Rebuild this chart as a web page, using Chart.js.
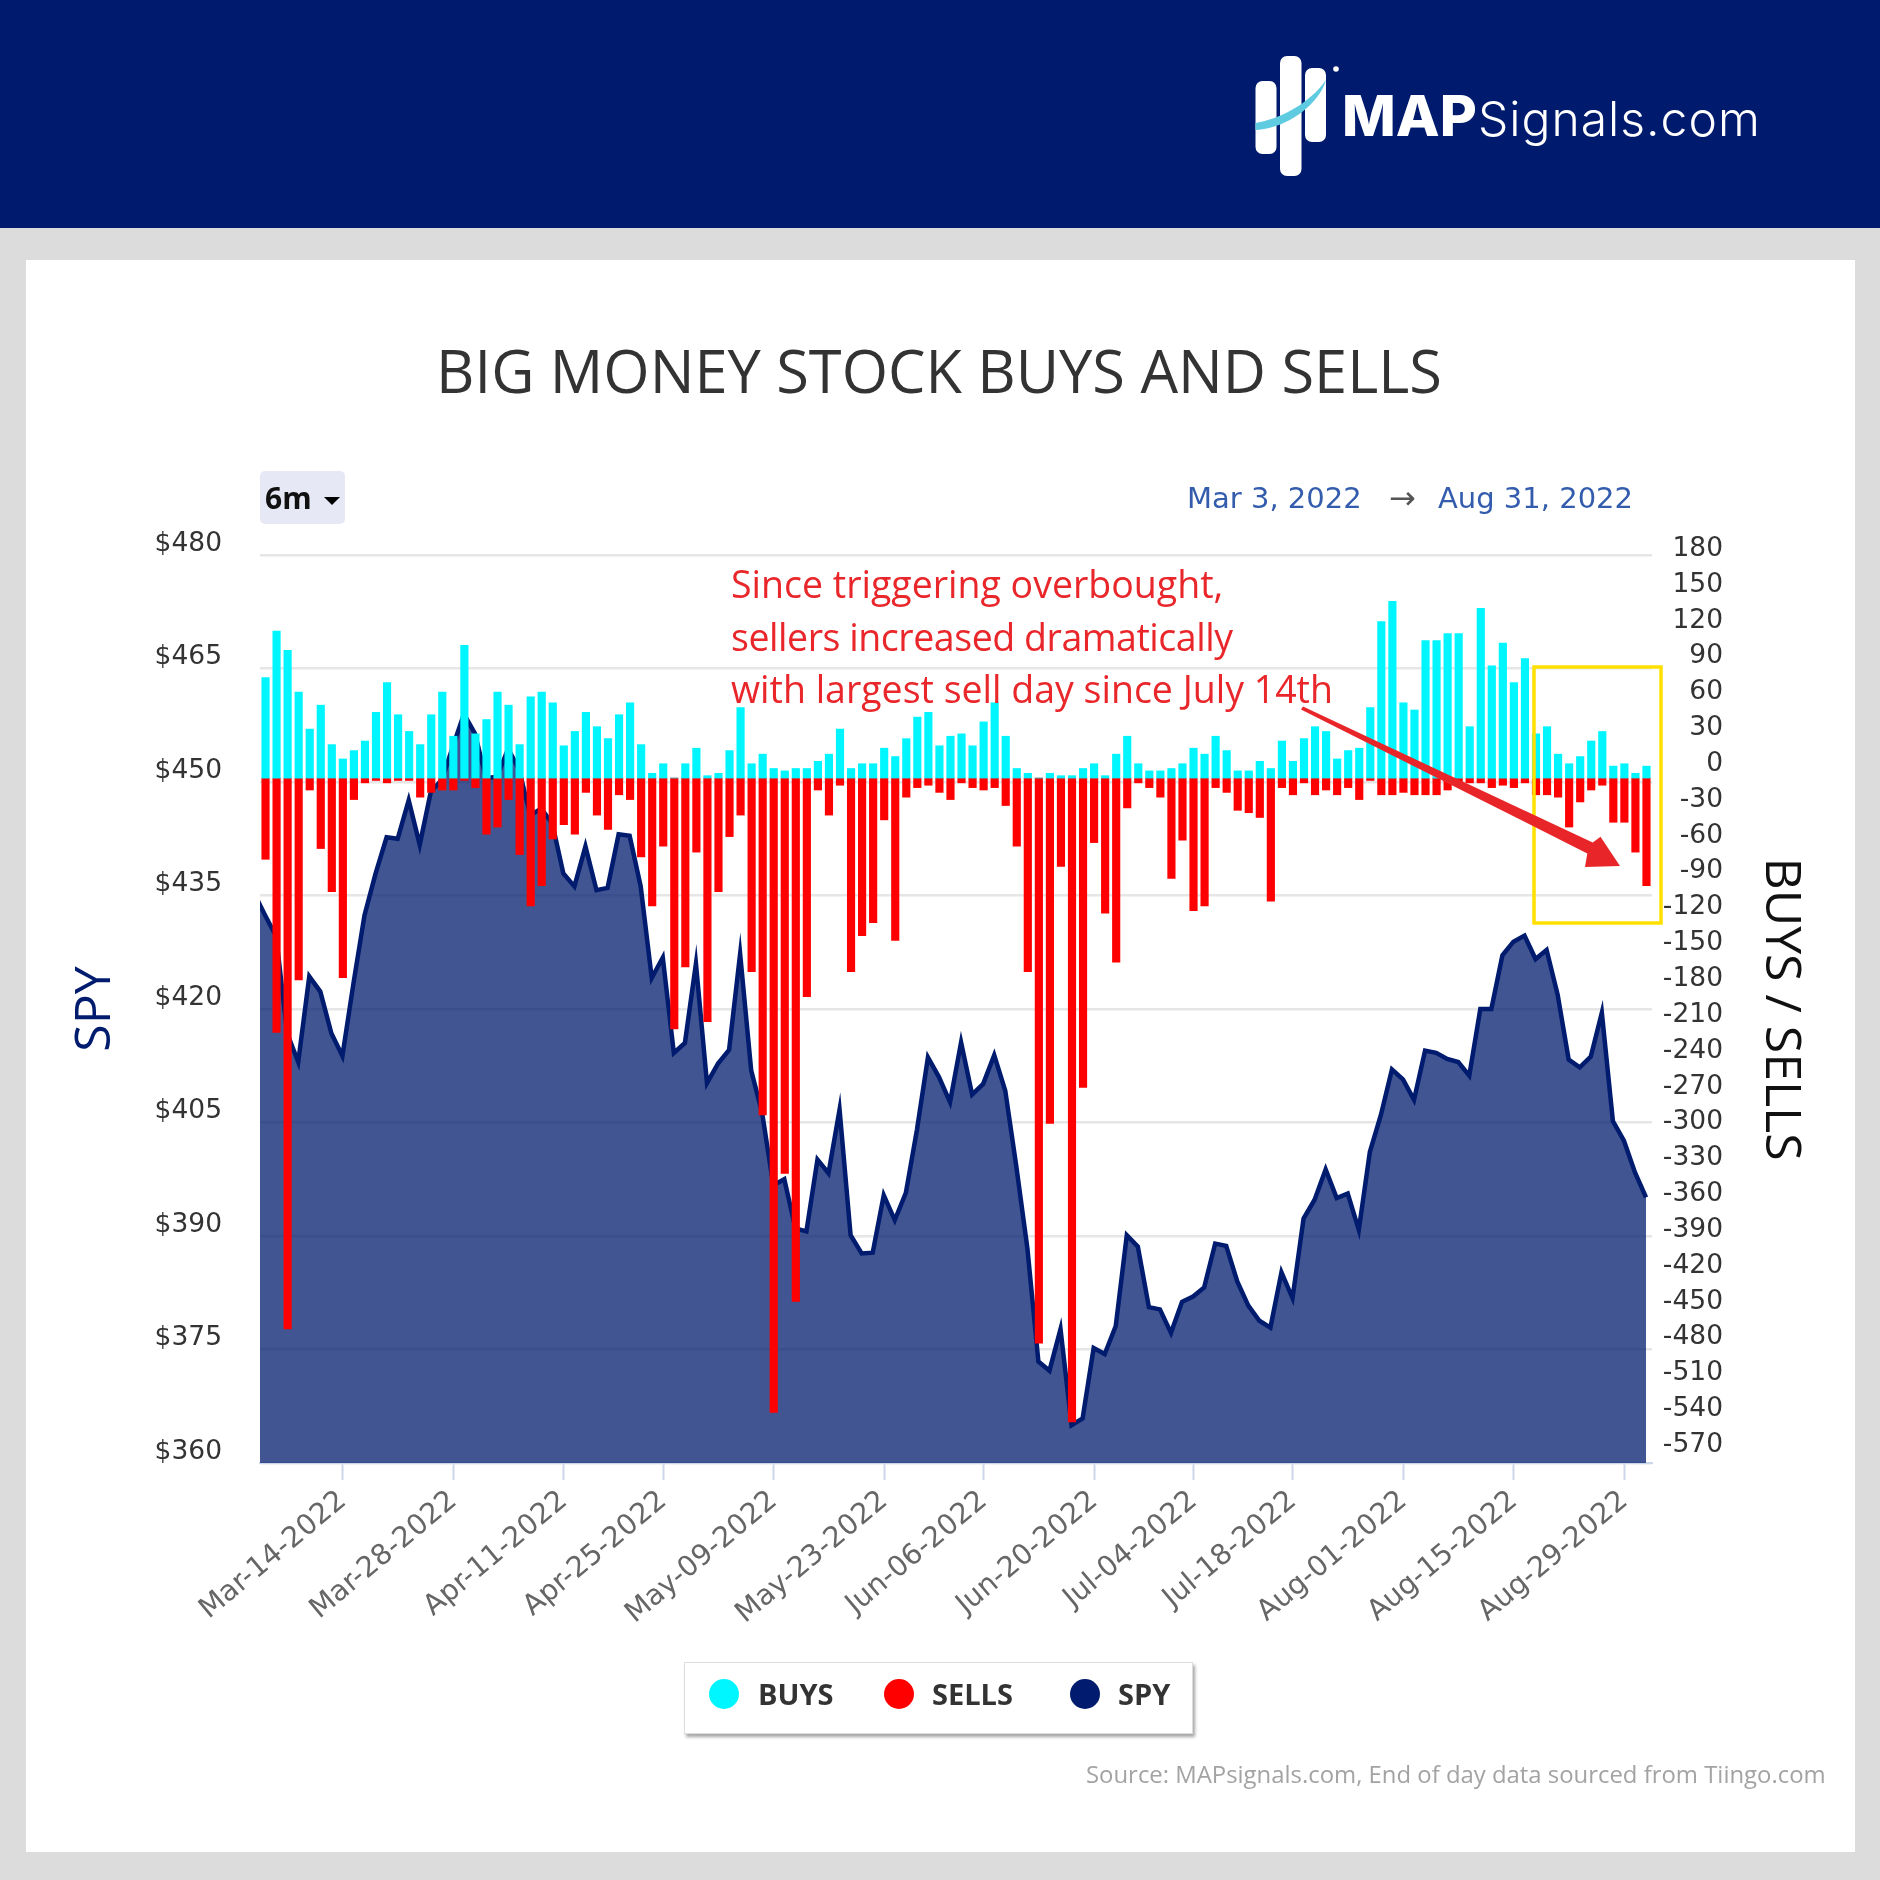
<!DOCTYPE html>
<html>
<head>
<meta charset="utf-8">
<script src="https://cdn.jsdelivr.net/npm/chart.js@4/dist/chart.umd.min.js"></script>
<style>
  html, body { margin: 0; padding: 0; }
  body { width: 1880px; height: 1880px; position: relative; overflow: hidden; background: #dcdcdc; font-family: "Open Sans", sans-serif; }
  .abs { position: absolute; white-space: nowrap; }
  #banner { left: 0; top: 0; width: 1880px; height: 228px; background: #001a6e; }
  #card { left: 26px; top: 260px; width: 1829px; height: 1592px; background: #fff; }
  #chart { position: absolute; left: 0; top: 0; }
  #title { left: 0; width: 1878px; top: 334px; text-align: center; font-size: 59.5px; line-height: 72px; color: #333; }
  #range { left: 260px; top: 471px; width: 85px; height: 53px; background: #e6e9f5; border-radius: 5px; }
  #rangeText { left: 265px; top: 478px; font-size: 30px; line-height: 40px; font-weight: 700; color: #111; }
  #rangeCaret { left: 324px; top: 497px; width: 0; height: 0; border-left: 8px solid transparent; border-right: 8px solid transparent; border-top: 8px solid #000; }
  .dates { top: 478px; font-family: "DejaVu Sans", sans-serif; font-size: 29px; line-height: 40px; color: #335cad; }
  .note { left: 731px; font-size: 37.5px; line-height: 52px; color: #e9262a; }
  #legend { left: 684px; top: 1662px; width: 509px; height: 72px; background: #fff; border: 1px solid #ddd; box-shadow: 2px 3px 3px rgba(0,0,0,.35); box-sizing: border-box; }
  #legend .dot { position: absolute; width: 30px; height: 30px; border-radius: 50%; top: 16px; }
  #legend .lbl { position: absolute; top: 11px; font-size: 29px; line-height: 40px; font-weight: 700; color: #333; }
  #source { left: 1086px; top: 1757px; font-size: 23.9px; line-height: 34px; color: #a3a3a3; }
  #brandA { left: 1342px; top: 80px; font-family: Inter, sans-serif; font-weight: 800; font-size: 57px; line-height: 72px; color: #fff; }
  #brandB { left: 1478px; top: 87px; font-family: Inter, sans-serif; font-weight: 300; font-size: 48px; letter-spacing: 1px; line-height: 64px; color: #fff; }
  svg.abs { left: 0; top: 0; }
</style>
</head>
<body>
<div class="abs" id="banner"></div>
<div class="abs" id="card"></div>
<canvas id="chart" width="1880" height="1880"></canvas>

<svg class="abs" width="1880" height="1880" viewBox="0 0 1880 1880">
  <!-- logo -->
  <rect x="1255.5" y="81" width="21" height="73" rx="7" fill="#fff"/>
  <rect x="1280" y="56" width="21.5" height="120" rx="7" fill="#fff"/>
  <rect x="1305" y="68" width="21" height="74" rx="7" fill="#fff"/>
  <circle cx="1336" cy="69" r="2.8" fill="#fff"/>
  <path d="M1255.5 123 C1285 118 1312 100 1326 80 C1320 102 1290 128 1255.5 130 Z" fill="#5fcbe0"/>
  <!-- highlight box and arrow -->
  <rect x="1534" y="667" width="127" height="256" fill="none" stroke="#ffe000" stroke-width="3.5"/>
  <polygon points="1303,706.5 1592.7,842.6 1600.5,836.7 1620,866 1585,867 1587.3,853.4 1301,709.5" fill="#e8262a"/>
</svg>

<div class="abs" id="title">BIG MONEY STOCK BUYS AND SELLS</div>
<div class="abs" id="range"></div>
<div class="abs" id="rangeText">6m</div>
<div class="abs" id="rangeCaret"></div>
<div class="abs dates" style="left:1187px">Mar 3, 2022</div>
<div class="abs dates" style="left:1389px;font-size:32px;color:#555">&#8594;</div>
<div class="abs dates" style="left:1438px">Aug 31, 2022</div>
<div class="abs note" style="top:558px">Since triggering overbought,</div>
<div class="abs note" style="top:611px;letter-spacing:-.45px">sellers increased dramatically</div>
<div class="abs note" style="top:663px">with largest sell day since July 14th</div>
<div class="abs" id="legend"></div>
<div class="abs" id="source">Source: MAPsignals.com, End of day data sourced from Tiingo.com</div>
<div class="abs" id="brandA">MAP</div>
<div class="abs" id="brandB">Signals.com</div>

<script>
// trading days, Mar 3 to Aug 31 2022 (two axis labels fall on market holidays)
const categories = [
  'Mar-03-2022','Mar-04-2022','Mar-07-2022','Mar-08-2022','Mar-09-2022','Mar-10-2022','Mar-11-2022',
  'Mar-14-2022','Mar-15-2022','Mar-16-2022','Mar-17-2022','Mar-18-2022','Mar-21-2022','Mar-22-2022',
  'Mar-23-2022','Mar-24-2022','Mar-25-2022','Mar-28-2022','Mar-29-2022','Mar-30-2022','Mar-31-2022',
  'Apr-01-2022','Apr-04-2022','Apr-05-2022','Apr-06-2022','Apr-07-2022','Apr-08-2022','Apr-11-2022',
  'Apr-12-2022','Apr-13-2022','Apr-14-2022','Apr-18-2022','Apr-19-2022','Apr-20-2022','Apr-21-2022',
  'Apr-22-2022','Apr-25-2022','Apr-26-2022','Apr-27-2022','Apr-28-2022','Apr-29-2022','May-02-2022',
  'May-03-2022','May-04-2022','May-05-2022','May-06-2022','May-09-2022','May-10-2022','May-11-2022',
  'May-12-2022','May-13-2022','May-16-2022','May-17-2022','May-18-2022','May-19-2022','May-20-2022',
  'May-23-2022','May-24-2022','May-25-2022','May-26-2022','May-27-2022','May-31-2022','Jun-01-2022',
  'Jun-02-2022','Jun-03-2022','Jun-06-2022','Jun-07-2022','Jun-08-2022','Jun-09-2022','Jun-10-2022',
  'Jun-13-2022','Jun-14-2022','Jun-15-2022','Jun-16-2022','Jun-17-2022','Jun-20-2022','Jun-22-2022',
  'Jun-23-2022','Jun-24-2022','Jun-27-2022','Jun-28-2022','Jun-29-2022','Jun-30-2022','Jul-01-2022',
  'Jul-04-2022','Jul-06-2022','Jul-07-2022','Jul-08-2022','Jul-11-2022','Jul-12-2022','Jul-13-2022',
  'Jul-14-2022','Jul-15-2022','Jul-18-2022','Jul-19-2022','Jul-20-2022','Jul-21-2022','Jul-22-2022',
  'Jul-25-2022','Jul-26-2022','Jul-27-2022','Jul-28-2022','Jul-29-2022','Aug-01-2022','Aug-02-2022',
  'Aug-03-2022','Aug-04-2022','Aug-05-2022','Aug-08-2022','Aug-09-2022','Aug-10-2022','Aug-11-2022',
  'Aug-12-2022','Aug-15-2022','Aug-16-2022','Aug-17-2022','Aug-18-2022','Aug-19-2022','Aug-22-2022',
  'Aug-23-2022','Aug-24-2022','Aug-25-2022','Aug-26-2022','Aug-29-2022','Aug-30-2022','Aug-31-2022'
];
const xTickLabels = [
  'Mar-14-2022','Mar-28-2022','Apr-11-2022','Apr-25-2022','May-09-2022','May-23-2022','Jun-06-2022',
  'Jun-20-2022','Jul-04-2022','Jul-18-2022','Aug-01-2022','Aug-15-2022','Aug-29-2022'
];

const buys = [
  84,123,107,72,41,61,28,16,23,31, 55,80,53,39,28,53,72,35,111,37,
  49,72,61,28,68,72,63,27,39,55, 43,33,53,63,28,4,12,0,12,25,
  2,4,23,59,12,20,8,6,8,8, 14,20,41,8,12,12,25,18,33,51,
  55,27,35,37,27,47,63,35,8,4, 0,4,2,2,8,12,2,20,35,12,
  6,6,8,12,25,20,35,23,6,6, 14,8,31,14,33,43,39,16,23,25,
  59,131,148,63,57,115,115,121,121,43, 142,94,113,80,100,37,43,20,12,18,
  31,39,10,12,4,10
];
const sells = [
  -68,-213,-461,-169,-10,-59,-95,-167,-18,-4, -2,-4,-2,-2,-16,-12,-10,-10,-2,-8,
  -47,-41,-18,-64,-107,-90,-51,-39,-47,-12, -31,-43,-14,-18,-66,-107,-57,-210,-158,-62,
  -204,-95,-49,-31,-162,-282,-531,-331,-438,-183, -10,-31,-6,-162,-132,-121,-35,-136,-16,-8,
  -6,-12,-18,-4,-8,-10,-8,-23,-57,-162, -473,-289,-74,-539,-259,-54,-113,-154,-25,-4,
  -8,-16,-84,-52,-111,-107,-8,-12,-27,-29, -33,-103,-8,-14,-4,-14,-10,-14,-8,-18,
  -2,-14,-14,-12,-14,-14,-14,-10,-6,-4, -4,-8,-6,-8,-4,-14,-14,-16,-41,-20,
  -10,-6,-37,-37,-62,-90
];
// first value is the close before the window, the line runs in from the plot edge
const spy = [
  435.3,
  432.4,429.6,416.8,413.0,424.3,422.3,416.8,413.8,423.4,432.4,
  437.9,442.7,442.5,447.6,441.7,448.7,450.3,454.7,459.0,456.4,
  450.5,450.7,454.4,451.6,445.6,446.5,444.5,437.9,436.2,441.5,
  435.7,436.0,443.1,442.9,436.2,424.1,426.8,414.2,415.5,426.0,
  410.2,412.8,414.6,427.3,411.9,406.2,396.7,397.5,391.0,390.6,
  400.1,398.3,406.7,390.1,387.7,387.8,395.4,392.1,395.7,404.0,
  413.6,411.0,407.7,415.6,408.7,410.1,413.9,409.2,399.2,388.4,
  373.4,372.2,377.7,365.0,365.9,375.2,374.4,378.1,390.1,388.6,
  380.6,380.3,377.2,381.3,382.0,383.2,389.0,388.7,384.0,380.8,
  378.8,377.9,385.2,381.8,392.3,394.8,398.8,395.0,395.6,390.8,
  401.1,406.0,412.0,410.7,408.0,414.5,414.2,413.4,413.0,411.2,
  420.0,420.0,427.1,428.9,429.7,426.6,427.8,421.9,413.3,412.3,
  413.7,419.5,405.2,402.6,398.4,395.1
];

const tickFont = { family: '"DejaVu Sans", sans-serif', size: 26.5 };
const axisTitleFont = { family: '"Open Sans", sans-serif', size: 50 };
const fixWidth = w => scale => { scale.width = w; };

const chart = new Chart(document.getElementById('chart'), {
  type: 'bar',
  data: {
    labels: categories,
    datasets: [
      { label: 'BUYS', data: buys, backgroundColor: '#00f6ff', grouped: false, barThickness: 7.5, yAxisID: 'yFlow', order: 1 },
      { label: 'SELLS', data: sells, backgroundColor: '#ff0000', grouped: false, barThickness: 7.5, yAxisID: 'yFlow', order: 2 },
      {
        type: 'line',
        label: 'SPY',
        data: spy.map((v, i) => ({ x: i - 1, y: v })),
        xAxisID: 'xLine',
        yAxisID: 'ySpy',
        borderColor: '#011c6e',
        backgroundColor: 'rgba(1,28,110,0.75)',
        borderWidth: 4.5,
        pointRadius: 0,
        tension: 0,
        fill: 'start',
        order: 3
      }
    ]
  },
  options: {
    responsive: false,
    animation: false,
    devicePixelRatio: 1,
    layout: { padding: { left: 60, top: 555, right: 157, bottom: 117 } },
    plugins: { legend: { display: false }, title: { display: false }, tooltip: { enabled: false } },
    scales: {
      x: {
        position: 'bottom',
        offset: true,
        afterFit: s => { s.height = 300; },
        afterBuildTicks: s => { s.ticks = s.ticks.filter(t => xTickLabels.includes(categories[t.value])); },
        border: { color: '#ccd6eb', width: 2 },
        grid: { offset: false, drawOnChartArea: false, tickLength: 17, tickWidth: 2, tickColor: '#ccd6eb' },
        ticks: { autoSkip: false, maxRotation: 40, minRotation: 40, color: '#666', font: { family: '"DejaVu Sans", sans-serif', size: 28.5 }, padding: 4 }
      },
      xLine: { type: 'linear', display: false, offset: false, min: -0.46, max: 125.54 },
      ySpy: {
        position: 'left',
        min: 360,
        max: 480,
        afterFit: fixWidth(200),
        border: { display: false },
        grid: { color: '#e6e6e6', lineWidth: 2.5, drawTicks: false },
        ticks: { stepSize: 15, padding: 38, labelOffset: -11, color: '#333', font: tickFont, callback: v => '$' + v },
        title: { display: true, text: 'SPY', color: '#011c6e', font: axisTitleFont, padding: 6 }
      },
      yFlow: {
        position: 'right',
        min: -573.3,
        max: 186.7,
        afterFit: fixWidth(71),
        border: { display: false },
        grid: { display: false, drawTicks: false },
        ticks: {
          stepSize: 30,
          includeBounds: false,
          autoSkip: false,
          crossAlign: 'far',
          labelOffset: -14,
          color: '#333',
          font: tickFont
        },
        // negative padding pushes the title out past the tick labels
        title: { display: true, text: 'BUYS / SELLS', color: '#111', font: axisTitleFont, padding: { top: -87, bottom: 0 } }
      }
    }
  }
});

// legend box is built from the datasets, offsets match the original
const legendBox = document.getElementById('legend');
const dotLeft = [24, 199, 385];
const lblLeft = [73, 247, 433];
chart.data.datasets.forEach((ds, i) => {
  const dot = document.createElement('div');
  dot.className = 'dot';
  dot.style.left = dotLeft[i] + 'px';
  dot.style.background = ds.type === 'line' ? ds.borderColor : ds.backgroundColor;
  const lbl = document.createElement('div');
  lbl.className = 'lbl';
  lbl.style.left = lblLeft[i] + 'px';
  lbl.textContent = ds.label;
  legendBox.append(dot, lbl);
});
</script>
</body>
</html>
